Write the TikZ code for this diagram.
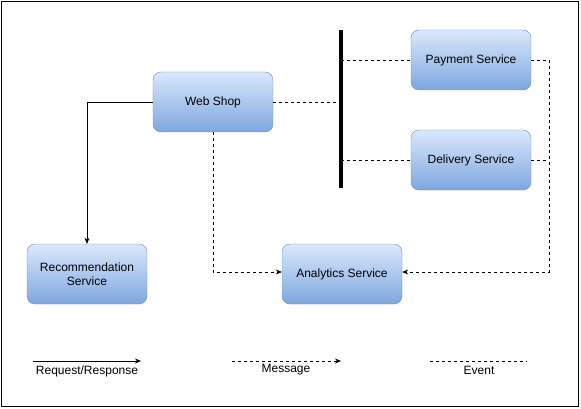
\documentclass[tikz,border=0pt]{standalone}
\usepackage{fontspec}
\setmainfont{Liberation Sans}
\usetikzlibrary{arrows.meta,positioning,calc}

\definecolor{boxtop}{HTML}{DAE8FC}
\definecolor{boxbot}{HTML}{7EA6E0}
\definecolor{boxline}{HTML}{6C8EBF}

\begin{document}
\begin{tikzpicture}[x=1pt,y=-1pt,font=\fontsize{12}{14}\selectfont,
  service/.style={rectangle,rounded corners=8pt,draw=boxline,top color=boxtop,bottom color=boxbot,minimum width=120pt,minimum height=60pt,align=center,inner sep=2pt},
  request/.style={semithick,-{Stealth[length=6pt,width=5pt]}},
  message/.style={semithick,dashed,dash pattern=on 3pt off 3pt,-{Stealth[length=6pt,width=5pt]}},
  event/.style={semithick,dash pattern=on 3pt off 3pt},
  bus/.style={rectangle,fill=black,inner sep=0pt,minimum width=4pt,minimum height=158pt}]
\useasboundingbox (0,0) rectangle (581,409);
\draw[thick] (1,1) rectangle (578,406);

\node(web)[service] at (213,102) {Web Shop};
\node(payment)[service] at (471,60) {Payment Service};
\node(delivery)[service] at (471,160) {Delivery Service};
\node(recommend)[service] at (87,274) {Recommendation\\Service};
\node(analytics)[service] at (342,274) {Analytics Service};
\node(eventbus)[bus] at (341,109) {};

\coordinate (wsturn) at (87,102);
\coordinate (wsdown) at (213,272);
\coordinate (rightup) at (549,60);
\coordinate (rightmid) at (549,160);
\coordinate (rightdown) at (549,272);

\draw [request] (web.west) -- (wsturn) -- (recommend.north);
\draw [event] (web.east) -- (web.east -| eventbus.center);
\draw [event] (payment.west -| eventbus.center) -- (payment.west);
\draw [event] (delivery.west -| eventbus.center) -- (delivery.west);
\draw [message] (web.south) -- (wsdown) -- (analytics.west |- wsdown);
\draw [message] (payment.east) -- (rightup) -- (rightdown) -- (analytics.east |- rightdown);
\draw [event] (delivery.east) -- (rightmid);

% legend
\coordinate (l1a) at (33,361);  \coordinate (l1b) at (141,361);
\coordinate (l2a) at (232,361); \coordinate (l2b) at (341,361);
\coordinate (l3a) at (430,361); \coordinate (l3b) at (527,361);
\draw [request] (l1a) -- (l1b);
\draw [message] (l2a) -- (l2b);
\draw [event] (l3a) -- (l3b);
\node(lreq) at (87,371) {Request/Response};
\node(lmsg) at (286,370) {Message};
\node(levt) at (479,370) {Event};
\end{tikzpicture}
\end{document}
